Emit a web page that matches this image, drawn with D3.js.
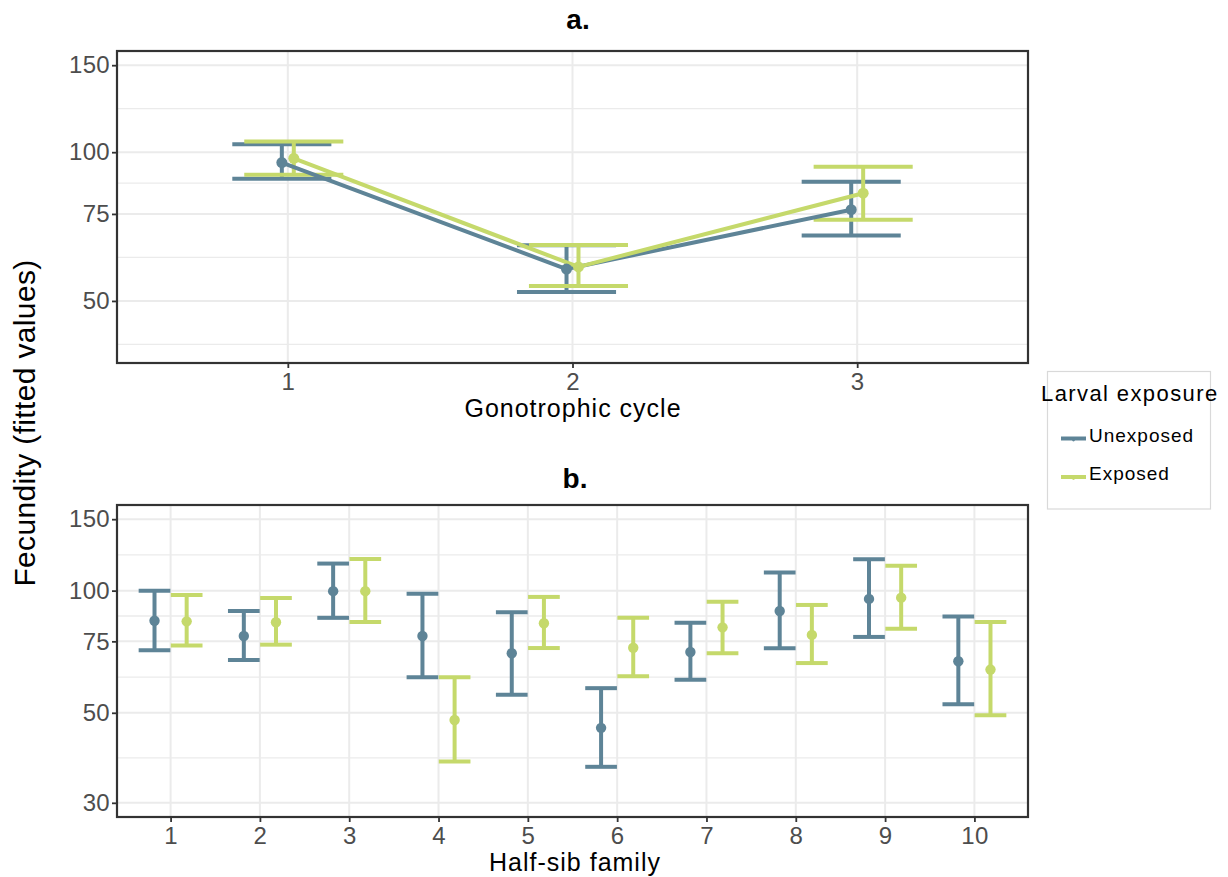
<!DOCTYPE html>
<html>
<head>
<meta charset="utf-8">
<script src="https://cdn.jsdelivr.net/npm/d3@7"></script>
<style>
  body { margin: 0; background: #ffffff; }
  svg { display: block; font-family: "Liberation Sans", Arial, Helvetica, sans-serif; }
</style>
</head>
<body>
<svg id="chart" width="1228" height="877"></svg>
<script>
// ---- Data: fitted fecundity with confidence limits ----
const groupNames = ["Unexposed", "Exposed"];

// a. by gonotrophic cycle
const cycles = ["1", "2", "3"];
const cycleUnexposedFit  = [95.3, 58.0, 76.5];
const cycleUnexposedLow  = [88.4, 52.1, 67.8];
const cycleUnexposedHigh = [103.8, 64.8, 87.1];
const cycleExposedFit    = [97.2, 58.6, 82.6];
const cycleExposedLow    = [90.0, 53.6, 73.0];
const cycleExposedHigh   = [105.1, 64.9, 93.4];
const cycleTicks  = [50, 75, 100, 150];
const cycleLimits = [40, 150];

// b. by half-sib family
const families = ["1", "2", "3", "4", "5", "6", "7", "8", "9", "10"];
const familyUnexposedFit  = [84.3, 77.3, 99.7, 77.3, 70.1, 45.9, 70.6, 89.1, 95.4, 67.0];
const familyUnexposedLow  = [71.3, 67.5, 85.7, 61.2, 55.4, 36.8, 60.3, 72.1, 76.9, 52.5];
const familyUnexposedHigh = [100.0, 89.1, 116.6, 98.3, 88.5, 57.5, 83.3, 110.8, 119.5, 86.3];
const familyExposedFit    = [84.0, 83.6, 99.7, 48.0, 83.1, 72.3, 81.2, 77.8, 96.1, 63.9];
const familyExposedLow    = [73.2, 73.6, 83.7, 37.9, 72.2, 61.5, 70.1, 66.3, 80.6, 49.3];
const familyExposedHigh   = [97.6, 95.9, 119.7, 61.2, 96.5, 85.8, 93.9, 92.2, 115.1, 83.7];
const familyTicks  = [30, 50, 75, 100, 150];
const familyLimits = [30, 150];

// ---- Styling ----
const colors = { Unexposed: "#5e8497", Exposed: "#c5d96b" };
const gridColor = "#ebebeb";
const frameColor = "#333333";
const tickTextColor = "#4d4d4d";
const PLOT_LEFT = 117, PLOT_RIGHT = 1028;

const svg = d3.select("#chart");

// log-space expansion of axis limits (5% each side)
function expandLog(lim, mult) {
  const a = Math.log(lim[0]), b = Math.log(lim[1]), d = (b - a) * mult;
  return [Math.exp(a - d), Math.exp(b + d)];
}

// minor gridlines halfway (in log space) between major breaks
function minorBreaks(majors, domain) {
  const lo = Math.log(domain[0]), hi = Math.log(domain[1]);
  const b = majors.map(Math.log).filter(v => v >= lo && v <= hi);
  const bd = b[1] - b[0];
  if (lo < b[0]) b.unshift(b[0] - bd);
  if (hi > b[b.length - 1]) b.push(b[b.length - 1] + bd);
  const out = [];
  for (let i = 0; i < b.length - 1; i++) out.push(Math.exp((b[i] + b[i + 1]) / 2));
  return out.filter(v => v > domain[0] && v < domain[1]);
}

function drawPanel(cfg) {
  const g = svg.append("g");
  const x = d3.scalePoint().domain(cfg.cats).range([PLOT_LEFT, PLOT_RIGHT]).padding(0.6);
  const domain = expandLog(cfg.limits, 0.05);
  const y = d3.scaleLog().domain(domain).range([cfg.bottom, cfg.top]);
  const step = x.step();
  const capHalf = cfg.capWidth * step / 2;

  // grid
  const grid = g.append("g");
  grid.selectAll("line.minor").data(minorBreaks(cfg.ticks, domain)).join("line")
    .attr("x1", PLOT_LEFT).attr("x2", PLOT_RIGHT)
    .attr("y1", d => y(d)).attr("y2", d => y(d))
    .attr("stroke", gridColor).attr("stroke-width", 1.3);
  grid.selectAll("line.hmajor").data(cfg.ticks).join("line")
    .attr("x1", PLOT_LEFT).attr("x2", PLOT_RIGHT)
    .attr("y1", d => y(d)).attr("y2", d => y(d))
    .attr("stroke", gridColor).attr("stroke-width", 2);
  grid.selectAll("line.vmajor").data(cfg.cats).join("line")
    .attr("x1", d => x(d)).attr("x2", d => x(d))
    .attr("y1", cfg.top).attr("y2", cfg.bottom)
    .attr("stroke", gridColor).attr("stroke-width", 2);

  const rowsBySeries = cfg.series.map((s, si) => {
    const off = (si === 0 ? -1 : 1) * cfg.dodge * step;
    return cfg.cats.map((c, i) => ({
      cx: x(c) + off, fit: s.fit[i], lo: s.low[i], hi: s.high[i], color: colors[s.name]
    }));
  });

  // error bars
  rowsBySeries.forEach(rows => {
    const eb = g.append("g").attr("stroke", rows[0].color).attr("stroke-width", 4).attr("fill", "none");
    eb.selectAll("line.v").data(rows).join("line")
      .attr("x1", d => d.cx).attr("x2", d => d.cx)
      .attr("y1", d => y(d.lo)).attr("y2", d => y(d.hi));
    eb.selectAll("line.top").data(rows).join("line")
      .attr("x1", d => d.cx - capHalf).attr("x2", d => d.cx + capHalf)
      .attr("y1", d => y(d.hi)).attr("y2", d => y(d.hi));
    eb.selectAll("line.bot").data(rows).join("line")
      .attr("x1", d => d.cx - capHalf).attr("x2", d => d.cx + capHalf)
      .attr("y1", d => y(d.lo)).attr("y2", d => y(d.lo));
  });

  // connecting lines
  if (cfg.lines) {
    const line = d3.line().x(d => d.cx).y(d => y(d.fit));
    rowsBySeries.forEach(rows => {
      g.append("path").datum(rows).attr("d", line)
        .attr("fill", "none").attr("stroke", rows[0].color)
        .attr("stroke-width", 4).attr("stroke-linejoin", "round");
    });
  }

  // points
  rowsBySeries.forEach(rows => {
    g.append("g").selectAll("circle").data(rows).join("circle")
      .attr("cx", d => d.cx).attr("cy", d => y(d.fit)).attr("r", cfg.pointR)
      .attr("fill", d => d.color);
  });

  // frame
  g.append("rect")
    .attr("x", PLOT_LEFT).attr("y", cfg.top)
    .attr("width", PLOT_RIGHT - PLOT_LEFT).attr("height", cfg.bottom - cfg.top)
    .attr("fill", "none").attr("stroke", frameColor).attr("stroke-width", 2.2);

  // axes
  const yAxis = g.append("g").attr("transform", `translate(${PLOT_LEFT},0)`)
    .call(d3.axisLeft(y).tickValues(cfg.ticks).tickFormat(d3.format("d")).tickSize(5).tickPadding(2));
  const xAxis = g.append("g").attr("transform", `translate(0,${cfg.bottom})`)
    .call(d3.axisBottom(x).tickSize(5).tickPadding(5));
  [yAxis, xAxis].forEach(ax => {
    ax.select(".domain").remove();
    ax.selectAll(".tick line").attr("stroke", frameColor).attr("stroke-width", 1.8);
    ax.selectAll(".tick text").attr("fill", tickTextColor)
      .style("font-size", "24px").style("letter-spacing", "0.3px")
      .style("font-family", "'Liberation Sans', Arial, sans-serif");
  });

  // axis title
  g.append("text")
    .attr("x", cfg.xTitleX).attr("y", cfg.xTitleY)
    .attr("text-anchor", "middle").attr("fill", "#000")
    .style("font-size", "25px").style("letter-spacing", "1px")
    .text(cfg.xTitle);

  // panel title
  g.append("text")
    .attr("x", cfg.titleX).attr("y", cfg.titleY)
    .attr("text-anchor", "middle").attr("fill", "#000")
    .style("font-size", "28px").style("font-weight", "bold")
    .text(cfg.title);
}

drawPanel({
  cats: cycles, top: 51, bottom: 363,
  ticks: cycleTicks, limits: cycleLimits,
  series: [
    { name: groupNames[0], fit: cycleUnexposedFit, low: cycleUnexposedLow, high: cycleUnexposedHigh },
    { name: groupNames[1], fit: cycleExposedFit, low: cycleExposedLow, high: cycleExposedHigh }
  ],
  dodge: 0.021, capWidth: 0.348, pointR: 5.5, lines: true,
  xTitle: "Gonotrophic cycle", xTitleX: 573, xTitleY: 417,
  title: "a.", titleX: 578, titleY: 29
});

drawPanel({
  cats: families, top: 505, bottom: 817,
  ticks: familyTicks, limits: familyLimits,
  series: [
    { name: groupNames[0], fit: familyUnexposedFit, low: familyUnexposedLow, high: familyUnexposedHigh },
    { name: groupNames[1], fit: familyExposedFit, low: familyExposedLow, high: familyExposedHigh }
  ],
  dodge: 0.18, capWidth: 0.355, pointR: 5.2, lines: false,
  xTitle: "Half-sib family", xTitleX: 575, xTitleY: 871,
  title: "b.", titleX: 575, titleY: 488
});

// shared y-axis title
svg.append("text")
  .attr("transform", "translate(35,423) rotate(-90)")
  .attr("text-anchor", "middle").attr("fill", "#000")
  .style("font-size", "30px").style("letter-spacing", "0.35px")
  .text("Fecundity (fitted values)");

// legend
const legend = svg.append("g");
legend.append("rect")
  .attr("x", 1047.5).attr("y", 371.5).attr("width", 163).attr("height", 137.5)
  .attr("fill", "#fff").attr("stroke", "#d9d9d9").attr("stroke-width", 1.2);
legend.append("text")
  .attr("x", 1041).attr("y", 401).attr("fill", "#000")
  .style("font-size", "22px").style("letter-spacing", "1.4px")
  .text("Larval exposure");
const keyRows = legend.selectAll("g.key").data(groupNames).join("g")
  .attr("transform", (d, i) => `translate(0,${438.5 + i * 38.5})`);
keyRows.append("line")
  .attr("x1", 1061).attr("x2", 1086).attr("y1", 0).attr("y2", 0)
  .attr("stroke", d => colors[d]).attr("stroke-width", 4);
keyRows.append("circle")
  .attr("cx", 1073.5).attr("cy", 1.5).attr("r", 1.4)
  .attr("fill", d => colors[d]);
keyRows.append("text")
  .attr("x", 1089).attr("y", 3).attr("fill", "#000")
  .style("font-size", "19px").style("letter-spacing", "1px")
  .text(d => d);
</script>
</body>
</html>
